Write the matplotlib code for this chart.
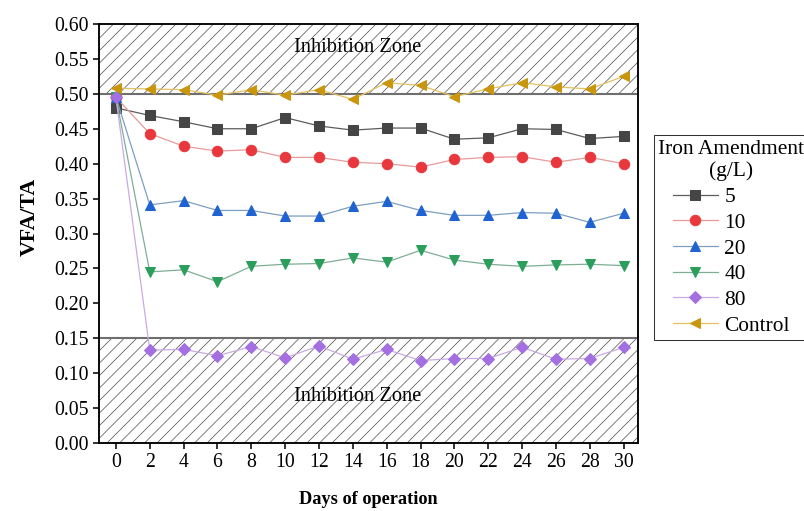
import matplotlib
matplotlib.use("Agg")
import matplotlib.pyplot as plt
import numpy as np

days = [0, 2, 4, 6, 8, 10, 12, 14, 16, 18, 20, 22, 24, 26, 28, 30]
fe5 = [0.480, 0.469, 0.460, 0.450, 0.450, 0.466, 0.454, 0.448, 0.451, 0.451, 0.435, 0.437, 0.450, 0.449, 0.436, 0.439]
fe10 = [0.495, 0.443, 0.425, 0.418, 0.420, 0.409, 0.409, 0.402, 0.400, 0.395, 0.406, 0.409, 0.410, 0.402, 0.409, 0.400]
fe20 = [0.495, 0.341, 0.347, 0.333, 0.333, 0.325, 0.325, 0.339, 0.346, 0.333, 0.326, 0.326, 0.330, 0.329, 0.316, 0.329]
fe40 = [0.495, 0.245, 0.248, 0.231, 0.253, 0.256, 0.257, 0.265, 0.259, 0.276, 0.262, 0.256, 0.253, 0.255, 0.256, 0.254]
fe80 = [0.495, 0.133, 0.134, 0.125, 0.138, 0.122, 0.139, 0.120, 0.134, 0.118, 0.121, 0.121, 0.137, 0.120, 0.121, 0.137]
control = [0.508, 0.507, 0.506, 0.498, 0.506, 0.498, 0.506, 0.492, 0.516, 0.512, 0.496, 0.507, 0.516, 0.510, 0.507, 0.525]
labels = ["5", "10", "20", "40", "80", "Control"]
xticks = list(range(0, 31, 2))
yticks = [round(0.05 * i, 2) for i in range(13)]
zone_upper = (0.50, 0.60)
zone_lower = (0.00, 0.15)

plt.rcParams['font.family'] = ['Liberation Serif', 'DejaVu Serif']
plt.rcParams['hatch.linewidth'] = 0.6
plt.rcParams['hatch.color'] = '#3a3a3a'

fig = plt.figure(figsize=(804 / 75, 511 / 75), dpi=75)
ax = fig.add_axes([99 / 804, 68 / 511, 539 / 804, 419 / 511])

for lo, hi in (zone_upper, zone_lower):
    ax.axhspan(lo, hi, facecolor='white', edgecolor='#3a3a3a', hatch='//', linewidth=0, zorder=0)
ax.axhline(zone_upper[0], color='#6e6e6e', lw=2, zorder=1)
ax.axhline(zone_lower[1], color='#6e6e6e', lw=2, zorder=1)

series = [fe5, fe10, fe20, fe40, fe80, control]
markers = ['s', 'o', '^', 'v', 'D', '<']
mcolors = ['#454545', '#e8383d', '#1f62d2', '#2b9e5c', '#a46fe0', '#c9960c']
lcolors = ['#5c5c5c', '#e89a9a', '#7d9fc0', '#7fae95', '#c9abe3', '#e2c262']
msizes = [9, 10, 10, 10, 8, 10]
for y, lab, m, mc, lc, ms in zip(series, labels, markers, mcolors, lcolors, msizes):
    ax.plot(days, y, color=lc, lw=1.2, marker=m, markersize=ms,
            markerfacecolor=mc, markeredgecolor=mc, label=lab, zorder=3)

for ty in (0.566, 0.066):
    ax.text(14.3, ty, "Inhibition Zone", ha='center', va='center', fontsize=19.5, zorder=2)

ax.set_xlim(-1, 30.85)
ax.set_ylim(0, 0.6)
ax.set_xticks(xticks)
ax.set_yticks(yticks)
ax.set_yticklabels([f"{v:.2f}" for v in yticks])
ax.tick_params(direction='out', length=6, width=1.5, labelsize=19, pad=4)
for s in ax.spines.values():
    s.set_linewidth(1.8)
    s.set_color('black')

ax.set_xlabel("Days of operation", fontsize=17.5, fontweight='bold', labelpad=18)
ax.set_ylabel("VFA/TA", fontsize=21, fontweight='bold')
ax.yaxis.set_label_coords(-0.11, 0.54)

leg = ax.legend(title="Iron Amendment\n(g/L)", loc='center left', bbox_to_anchor=(1.03, 0.49),
                fontsize=20.5, title_fontsize=20.5, frameon=True, fancybox=False,
                edgecolor='black', handlelength=2.1, handletextpad=0.3,
                labelspacing=0.27, borderpad=0.2, borderaxespad=0)
leg.get_frame().set_linewidth(1.0)
leg.get_title().set_multialignment('center')

fig.savefig("out.png", dpi=75)
